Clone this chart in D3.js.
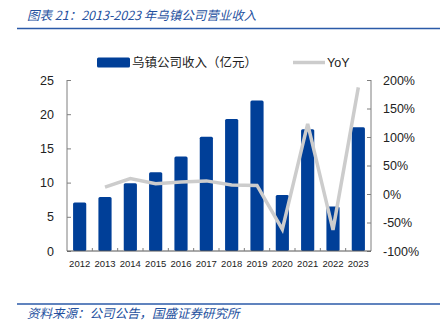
<!DOCTYPE html>
<html>
<head>
<meta charset="utf-8">
<script src="https://cdn.jsdelivr.net/npm/d3@7/dist/d3.min.js"></script>
<style>
  html, body { margin: 0; padding: 0; background: #fff; }
  svg { display: block; }
</style>
</head>
<body>
<svg id="chart" width="448" height="327"></svg>
<script>
// Revenue (亿元) and year-on-year growth (%)
const years = ["2012","2013","2014","2015","2016","2017","2018","2019","2020","2021","2022","2023"];
const revenue = [7.1, 7.9, 9.9, 11.5, 13.8, 16.7, 19.3, 22.0, 8.2, 17.8, 6.5, 18.1];
const yoy = [null, 12, 27, 18, 21, 23, 16, 15, -62, 123, -63, 187];
const leftTicks = [0, 5, 10, 15, 20, 25];
const rightTicks = [-100, -50, 0, 50, 100, 150, 200];

const titleText = "图表 21：2013-2023 年乌镇公司营业收入";
const sourceText = "资料来源：公司公告，国盛证券研究所";
const legendBar = "乌镇公司收入（亿元）";
const legendLine = "YoY";

const svg = d3.select("#chart");
const numFont = "'Liberation Sans', Arial, sans-serif";
const cjkFont = "'Noto Sans CJK SC', sans-serif";
const blue = "#003f98";
const grey = "#cccccc";
const axisCol = "#7f7f7f";
const textCol = "#222";

const plotL = 67, plotR = 371, plotT = 80, plotB = 251;

const x = d3.scaleBand().domain(years).range([plotL, plotR]).paddingInner(0.48).paddingOuter(0.24);
const xStep = d3.scaleBand().domain(years).range([plotL, plotR]);
const yL = d3.scaleLinear().domain([0, 25]).range([plotB, plotT]);
const yR = d3.scaleLinear().domain([-100, 200]).range([plotB, plotT]);

// Title and rules
svg.append("text")
  .attr("x", 27).attr("y", 20)
  .attr("font-family", cjkFont).attr("font-size", 12.5).attr("font-style", "italic")
  .attr("font-weight", 400)
  .attr("fill", "#24509e")
  .text(titleText);
svg.append("line").attr("x1", 17).attr("x2", 440).attr("y1", 28.5).attr("y2", 28.5)
  .attr("stroke", "#2b5aa8").attr("stroke-width", 1.6);
svg.append("line").attr("x1", 17).attr("x2", 440).attr("y1", 304).attr("y2", 304)
  .attr("stroke", "#2b5aa8").attr("stroke-width", 1.6);
svg.append("text")
  .attr("x", 27).attr("y", 318)
  .attr("font-family", cjkFont).attr("font-size", 12.5).attr("font-style", "italic")
  .attr("fill", "#24509e")
  .text(sourceText);

// Legend
svg.append("rect").attr("x", 97).attr("y", 57.5).attr("width", 33).attr("height", 10)
  .attr("rx", 1.5).attr("fill", blue);
svg.append("text").attr("x", 132).attr("y", 67)
  .attr("font-family", cjkFont).attr("font-size", 12.5).attr("fill", textCol)
  .text(legendBar);
svg.append("line").attr("x1", 293).attr("x2", 325).attr("y1", 62.5).attr("y2", 62.5)
  .attr("stroke", grey).attr("stroke-width", 3.5);
svg.append("text").attr("x", 327).attr("y", 67)
  .attr("font-family", numFont).attr("font-size", 12.5).attr("fill", textCol)
  .text(legendLine);

// Bars
svg.append("g").selectAll("rect").data(years).join("rect")
  .attr("x", d => x(d))
  .attr("width", x.bandwidth())
  .attr("y", (d, i) => yL(revenue[i]))
  .attr("height", (d, i) => yL(0) - yL(revenue[i]))
  .attr("rx", 1.5)
  .attr("fill", blue);

// YoY line
const linePts = years.map((d, i) => [x(d) + x.bandwidth() / 2, yoy[i]]).filter(p => p[1] !== null);
svg.append("path")
  .datum(linePts)
  .attr("d", d3.line().x(p => p[0]).y(p => yR(p[1])))
  .attr("fill", "none")
  .attr("stroke", grey)
  .attr("stroke-width", 3.5)
  .attr("stroke-linejoin", "miter");

// Axes
const gL = svg.append("g").attr("transform", `translate(${plotL},0)`)
  .call(d3.axisRight(yL).tickValues(leftTicks).tickSize(4).tickFormat(d3.format("d")));
gL.selectAll("text").remove();
gL.selectAll("line").attr("stroke", axisCol);
gL.select(".domain").attr("stroke", axisCol).attr("d", `M0,${plotT}V${plotB}`);
svg.append("g").selectAll("text").data(leftTicks).join("text")
  .attr("x", 54).attr("y", d => yL(d) + 4.5)
  .attr("text-anchor", "end")
  .attr("font-family", numFont).attr("font-size", 12.5).attr("fill", textCol)
  .text(d => d);

const gR = svg.append("g").attr("transform", `translate(${plotR},0)`)
  .call(d3.axisLeft(yR).tickValues(rightTicks).tickSize(4));
gR.selectAll("text").remove();
gR.selectAll("line").attr("stroke", axisCol);
gR.select(".domain").attr("stroke", axisCol).attr("d", `M0,${plotT}V${plotB}`);
svg.append("g").selectAll("text").data(rightTicks).join("text")
  .attr("x", 383).attr("y", d => yR(d) + 4.5)
  .attr("text-anchor", "start")
  .attr("font-family", numFont).attr("font-size", 12.5).attr("fill", textCol)
  .text(d => d + "%");

// Category axis: baseline, boundary ticks and year labels
svg.append("line").attr("x1", plotL).attr("x2", plotR).attr("y1", plotB).attr("y2", plotB)
  .attr("stroke", "#555").attr("stroke-width", 1);
svg.append("g").selectAll("line").data(years.slice(1)).join("line")
  .attr("x1", d => xStep(d)).attr("x2", d => xStep(d))
  .attr("y1", plotB).attr("y2", plotB - 3)
  .attr("stroke", axisCol);
svg.append("g").selectAll("text").data(years).join("text")
  .attr("x", d => x(d) + x.bandwidth() / 2)
  .attr("y", 267)
  .attr("text-anchor", "middle")
  .attr("font-family", numFont).attr("font-size", 9.5).attr("fill", textCol)
  .text(d => d);
</script>
</body>
</html>
